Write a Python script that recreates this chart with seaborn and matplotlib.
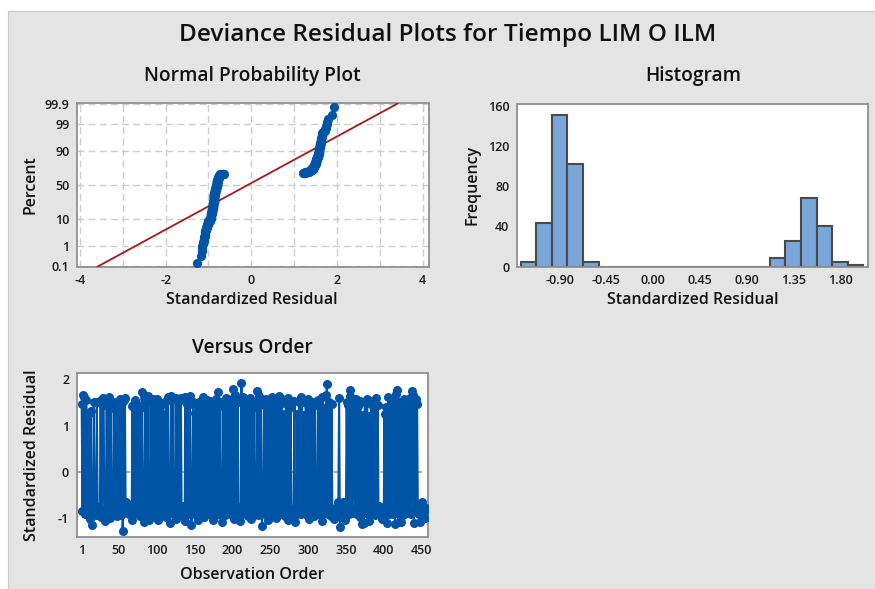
import matplotlib
matplotlib.use("Agg")
import matplotlib.pyplot as plt
from matplotlib.patches import Rectangle
from statistics import NormalDist
import seaborn as sns
import numpy as np
import pandas as pd

# standardized deviance residuals, in observation order
resid = [
    1.47, -0.84, 1.66, 1.61, -0.86, -0.92, 1.55, -0.79, -0.88, 1.27, -0.95, -1.02, 1.32, -1.14, -0.90, -0.81, 1.50, -0.87, -0.77, -0.93, 1.52, -0.85, -0.76, -0.89,
    -0.82, 1.55, -0.97, -0.80, 1.59, 1.44, -0.86, -1.06, -0.90, 1.52, -0.78, -0.88, 1.61, -0.84, -1.00, 1.38, -0.92, -0.75, -0.87, 1.50, -0.83, -0.79, 1.47, -0.95,
    1.52, -0.85, 1.57, -0.81, -0.93, 1.49, -1.27, -0.88, 1.55, 1.60, -0.79, -0.66, -0.74, -0.83, -0.90, -0.77, -0.86, -0.92, -1.04, 1.42, -0.80, 1.46, -0.89, 1.55,
    -0.87, 1.44, -0.67, -0.84, 1.36, -0.96, -0.78, 1.72, 1.41, -0.88, -1.08, -0.82, 1.56, -0.91, -0.76, 1.63, -0.86, -1.03, -0.80, 1.51, -0.89, -0.73, 1.58, -0.94,
    -0.85, 1.55, -0.90, -0.78, 1.57, -1.05, -0.83, 1.40, -0.88, -0.75, 1.48, -0.92, 1.26, -0.81, -0.87, -0.97, 1.53, -0.79, 1.62, -0.86, -1.10, -0.84, 1.65, -0.77,
    -0.90, 1.58, -0.82, -0.88, -1.01, 1.60, -0.76, -0.93, 1.54, -0.85, -0.80, 1.59, -0.89, -0.74, -0.95, -0.86, -1.07, 1.62, -0.83, 1.47, -0.91, 1.44, -0.78, 1.63,
    -0.87, -1.15, -0.79, 1.50, -0.92, -0.84, 1.27, -0.88, 1.45, -1.03, -0.81, 1.52, -0.90, -0.75, 1.35, -0.86, 1.61, -0.97, -0.80, 1.49, -0.85, -0.72, 1.56, -0.89,
    -0.83, 1.53, -0.91, -0.77, 1.46, -0.88, -1.04, 1.39, -0.82, -0.94, 1.57, -0.86, 1.72, -0.79, -0.90, 1.51, -0.85, -1.09, -0.76, 1.43, -0.87, -0.93, 1.59, -0.81,
    -0.89, 1.55, -0.84, 1.48, -0.92, -0.78, 1.58, -0.87, 1.80, -1.01, -0.80, 1.66, -0.86, -0.90, 1.50, -0.75, -0.88, -1.06, -0.83, 1.93, -0.91, 1.62, -0.79, -0.85,
    1.54, -0.88, -0.82, 1.45, -0.95, -0.77, 1.60, -0.86, -1.02, 1.37, -0.84, -0.90, 1.52, -0.80, -0.87, -0.73, 1.75, -0.93, 1.63, -0.85, -0.79, 1.47, -1.16, -0.89,
    -0.83, 1.50, -0.91, -0.76, 1.58, -0.87, -1.05, 1.44, -0.81, 1.33, -0.89, -0.94, 1.61, -0.78, -0.86, 1.55, -1.00, -0.84, 1.48, -0.90, -0.74, 1.64, -0.85, -0.92,
    1.57, -0.88, -0.80, 1.24, -0.95, -0.86, 1.46, -0.77, -1.03, 1.59, -0.84, -0.89, 1.41, -0.82, -0.92, -0.87, -0.79, 1.53, -1.08, -0.85, -0.90, 1.26, -0.78, 1.50,
    -0.86, 1.62, -0.91, 1.55, -0.81, -0.88, 1.22, -0.75, 1.49, -0.93, -0.84, 1.58, -1.02, -0.87, 1.35, -0.80, -0.89, 1.52, -0.83, -0.96, 1.45, -0.78, -0.86, -0.90,
    1.56, -0.85, -0.79, 1.43, -0.92, -1.06, 1.61, -0.84, -0.88, 1.38, -0.76, 1.66, 1.89, -0.90, -0.82, 1.51, -0.87, -0.95, 1.47, -0.80, -0.89, -1.01, -0.83, -0.77,
    -0.86, -0.91, -0.79, -0.64, 1.60, -1.18, -0.88, -0.72, -0.84, -0.65, -0.93, -0.81, -1.04, -0.87, 1.52, -0.78, 1.44, -0.90, 1.76, 1.63, -0.85, -0.80, 1.55, 1.48,
    -0.89, -0.83, 1.58, -0.92, -0.76, 1.42, -0.86, -0.97, 1.54, -0.81, -1.13, 1.23, -0.88, -1.10, 1.50, -0.84, -0.79, 1.57, -0.90, -1.07, 1.21, -0.85, 1.46, -0.77,
    1.53, -0.87, -0.82, 1.56, -0.93, 1.59, -0.80, 1.45, -0.88, -0.74, -0.91, -0.85, -1.02, -0.78, -0.89, -0.83, 1.25, -0.86, 1.40, -1.11, -0.80, 1.62, -0.92, 1.36,
    -0.84, 1.49, -0.79, -0.90, 1.54, -0.86, -1.12, 1.68, -0.82, 1.76, -0.88, -1.09, 1.51, -0.77, -1.08, 1.44, -0.93, -0.85, 1.58, -0.81, -0.89, 1.34, -0.75, -0.87,
    1.52, -0.83, 1.60, -0.90, 1.74, 1.66, -0.86, -1.10, 1.48, -0.79, 1.57, 1.47, -0.88, -0.92, -0.84, -1.09, -0.81, -0.66, -0.95, -0.77, -0.87, -1.00, -0.82, -0.78,
]

# histogram bars (bin centre, frequency)
hist_centers = [-1.20, -1.05, -0.90, -0.75, -0.60, -0.45, -0.30, -0.15, 0.00, 0.15, 0.30,
                0.45, 0.60, 0.75, 0.90, 1.05, 1.20, 1.35, 1.50, 1.65, 1.80, 1.95]
hist_counts = [5, 43, 151, 102, 5, 0, 0, 0, 0, 0, 0,
               0, 0, 0, 0, 0, 9, 26, 68, 40, 5, 2]
hist_ticks = [-0.90, -0.45, 0.00, 0.45, 0.90, 1.35, 1.80]

pct_ticks = [0.1, 1, 10, 50, 90, 99, 99.9]
pct_labels = ["0.1", "1", "10", "50", "90", "99", "99.9"]
order_ticks = [1, 50, 100, 150, 200, 250, 300, 350, 400, 450]

BLUE = "#0054a6"
RED = "#a31a1f"
HFILL = "#7ba6da"
HEDGE = "#4a4a4a"
PANEL = "#e4e4e4"
SPINE = "#8f8f8f"
GRID = "#cdcdcd"

sns.set_style("white")
plt.rcParams["font.family"] = ["Open Sans", "DejaVu Sans"]
plt.rcParams["axes.unicode_minus"] = False

W, H = 875, 589
fig = plt.figure(figsize=(W / 100, H / 100), dpi=100)
fig.patch.set_facecolor("white")
fig.add_artist(Rectangle((8 / W, 0), 1, 1 - 11 / H, transform=fig.transFigure,
                         facecolor=PANEL, edgecolor="#c8c8c8", lw=0.8, zorder=-10))


def box(l, t, r, b):
    return [l / W, 1 - b / H, (r - l) / W, (b - t) / H]


def ftext(x, y, s, size, **kw):
    fig.text(x / W, 1 - y / H, s, fontsize=size, ha="center", va="center",
             color="#111111", fontweight="semibold", **kw)


def style(ax):
    ax.set_facecolor("white")
    for sp in ax.spines.values():
        sp.set_color(SPINE)
        sp.set_linewidth(1.3)
    ax.tick_params(which="major", length=3.5, width=1, color=SPINE, labelsize=9,
                   labelcolor="#1a1a1a", pad=2)
    for lab in ax.get_xticklabels() + ax.get_yticklabels():
        lab.set_fontweight("semibold")
    ax.set_xlabel("")
    ax.set_ylabel("")


ax1 = fig.add_axes(box(77, 103.5, 429, 266.7))
ax2 = fig.add_axes(box(517, 104, 868, 266.7))
ax3 = fig.add_axes(box(76.7, 373.3, 428.3, 536.7))

# --- normal probability plot
nd = NormalDist()
r = np.sort(np.array(resid))
n = len(r)
p = (np.arange(1, n + 1) - 0.3) / (n + 0.4)
pp = pd.DataFrame({"resid": r, "z": [nd.inv_cdf(v) for v in p]})
mu, sd = np.mean(r), np.std(r, ddof=1)
fit = pd.DataFrame({"z": [-3.1, 3.1]})
fit["x"] = mu + sd * fit["z"]

sns.lineplot(data=fit, x="x", y="z", ax=ax1, color=RED, lw=1.3, zorder=3)
sns.scatterplot(data=pp, x="resid", y="z", ax=ax1, color=BLUE, s=44, linewidth=0, zorder=4)
ax1.set_xlim(-4.07, 4.15)
ax1.set_ylim(-3.1, 3.1)
ax1.set_xticks([-4, -2, 0, 2, 4])
ax1.set_xticks([-3, -1, 1, 3], minor=True)
ax1.set_yticks([nd.inv_cdf(v / 100) for v in pct_ticks])
ax1.set_yticklabels(pct_labels)
ax1.grid(True, which="both", color=GRID, ls=(0, (5, 3)), lw=1)
ax1.tick_params(which="minor", length=0)
style(ax1)

# --- histogram
sns.histplot(x=hist_centers, weights=hist_counts, binwidth=0.15, binrange=(-1.275, 2.025),
             ax=ax2, color=HFILL, edgecolor=HEDGE, linewidth=1.5, alpha=1)
ax2.set_xlim(-1.31, 2.07)
ax2.set_ylim(0, 161.7)
ax2.set_xticks(hist_ticks)
ax2.set_xticklabels([f"{v:.2f}" for v in hist_ticks])
ax2.set_yticks([0, 40, 80, 120, 160])
style(ax2)

# --- versus order
od = pd.DataFrame({"obs": np.arange(1, n + 1), "resid": resid})
ax3.axhline(0, color="#9a9a9a", ls=(0, (4, 3)), lw=1.2, zorder=1)
sns.lineplot(data=od, x="obs", y="resid", ax=ax3, color=BLUE, lw=1.5, marker="o",
             markersize=6.5, markeredgewidth=0, sort=False, estimator=None, zorder=3)
ax3.set_xlim(-5.6, 458.8)
ax3.set_ylim(-1.4, 2.13)
ax3.set_xticks(order_ticks)
ax3.set_yticks([-1, 0, 1, 2])
style(ax3)

# --- titles and labels
ftext(448, 35, "Deviance Residual Plots for Tiempo LIM O ILM", 17.6)
ftext(252, 76, "Normal Probability Plot", 13.8)
ftext(693, 76, "Histogram", 13.8)
ftext(252, 348, "Versus Order", 13.8)
ftext(252, 300, "Standardized Residual", 11.5)
ftext(693, 300, "Standardized Residual", 11.5)
ftext(252, 575, "Observation Order", 11.5)
ftext(30, 185, "Percent", 11.5, rotation=90)
ftext(472, 185, "Frequency", 11.5, rotation=90)
ftext(32, 455, "Standardized Residual", 11.5, rotation=90)

fig.savefig("out.png", dpi=100)
